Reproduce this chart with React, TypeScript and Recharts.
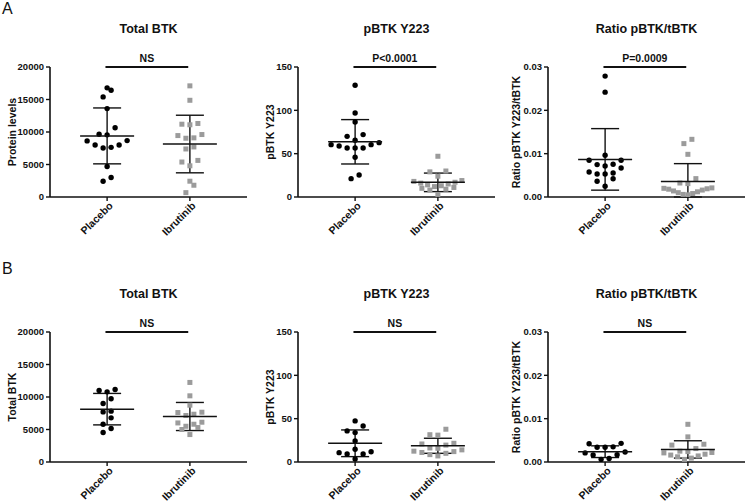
import React from "react";
import { ErrorBar, ReferenceLine, Scatter, ScatterChart, XAxis, YAxis } from "recharts";

// Groups on the x axis
const GROUPS = ["Placebo", "Ibrutinib"];

// Panel A values
const A_TOTAL_PLACEBO = [16790, 16430, 15400, 13600, 10650, 9650, 9560, 8680, 8630, 8010, 8010, 7640, 7550, 4700, 2990, 2430];
const A_TOTAL_IBRUTINIB = [17100, 14880, 11310, 11200, 11110, 9610, 9450, 9100, 9040, 7700, 7390, 5630, 5380, 4800, 2430, 1810, 670];
const A_TOTAL_MEAN = [9400, 8150];
const A_TOTAL_SD = [4300, 4430];

const A_PHOS_PLACEBO = [128.9, 96.9, 86.5, 72, 70, 65.4, 62.7, 60.4, 60.4, 58.8, 56.5, 56.5, 56.5, 45.8, 25.4, 21.2];
const A_PHOS_IBRUTINIB = [47, 30, 29, 24, 19, 18, 17, 16, 15, 14, 13, 12, 11, 10, 9, 8, 3];
const A_PHOS_MEAN = [63.7, 16.9];
const A_PHOS_SD = [25.6, 10.7];

const A_RATIO_PLACEBO = [0.0279, 0.0242, 0.00962, 0.00847, 0.00847, 0.00755, 0.00748, 0.00716, 0.00669, 0.00577, 0.00554, 0.00531, 0.00531, 0.0042, 0.00362, 0.00247];
const A_RATIO_IBRUTINIB = [0.01331, 0.01232, 0.00985, 0.00424, 0.00323, 0.00309, 0.0021, 0.002, 0.0019, 0.0018, 0.0016, 0.0014, 0.0012, 0.001, 0.0008, 0.0006, 0.0005];
const A_RATIO_MEAN = [0.00868, 0.0036];
const A_RATIO_SD = [0.0071, 0.0041];

// Panel B values
const B_TOTAL_PLACEBO = [11160, 11010, 10790, 9720, 9000, 7820, 7710, 6790, 5810, 5150, 4530];
const B_TOTAL_IBRUTINIB = [12240, 10180, 8740, 7660, 7610, 7350, 7150, 6120, 6010, 5810, 5500, 5300, 5000, 4220];
const B_TOTAL_MEAN = [8130, 7000];
const B_TOTAL_SD = [2420, 2160];

const B_PHOS_PLACEBO = [47.4, 41.6, 35.9, 33.9, 24.3, 14.7, 11.9, 10.8, 9.3, 9.3, 3.4];
const B_PHOS_IBRUTINIB = [37.8, 31.5, 31, 21.6, 20.8, 19.5, 16.2, 15.8, 14, 12.5, 12, 11, 10, 8.5, 7];
const B_PHOS_MEAN = [21.6, 18.7];
const B_PHOS_SD = [15.4, 8.7];

const B_RATIO_PLACEBO = [0.0043, 0.0042, 0.0035, 0.0034, 0.0034, 0.0023, 0.0021, 0.0017, 0.0016, 0.0008, 0.0006];
const B_RATIO_IBRUTINIB = [0.0087, 0.0058, 0.0041, 0.0039, 0.0031, 0.0025, 0.0024, 0.0022, 0.0021, 0.0018, 0.0016, 0.0014, 0.0012, 0.0009, 0.0006];
const B_RATIO_MEAN = [0.00238, 0.0029];
const B_RATIO_SD = [0.00135, 0.002];

// Axis ticks
const TOTAL_TICKS = [0, 5000, 10000, 15000, 20000];
const PHOS_TICKS = [0, 50, 100, 150];
const RATIO_TICKS = [0, 0.01, 0.02, 0.03];

// geometry
const PLOT_W = 197;
const PLOT_H = 130;
const AXIS_W = 50;
const TOP_M = 27;
const XAXIS_H = 45;
const X_DOMAIN: [number, number] = [-0.69, 1.69];
const PX_PER_X = PLOT_W / (X_DOMAIN[1] - X_DOMAIN[0]);
const INK = "#111";
const GREY = "#9b9b9b";
const FONT = "'Liberation Sans', Arial, sans-serif";

// Prism-like dot arrangement: group into rows, spread rows symmetrically
function swarm(values: number[], center: number, yMax: number) {
  const pxY = PLOT_H / yMax;
  const sorted = [...values].sort((a, b) => a - b);
  const rows: number[][] = [];
  for (const v of sorted) {
    const row = rows[rows.length - 1];
    if (row && (v - row[0]) * pxY < 7.5) row.push(v);
    else rows.push([v]);
  }
  const out: { x: number; y: number }[] = [];
  for (const row of rows) {
    const n = row.length;
    const step = n > 1 ? Math.min(8, 48 / (n - 1)) : 8;
    const slots: number[] = [];
    for (let i = 0; i < n; i++) slots.push(i - (n - 1) / 2);
    slots.sort((a, b) => Math.abs(a) - Math.abs(b) || a - b);
    row.forEach((v, i) => out.push({ x: center + (slots[i] * step) / PX_PER_X, y: v }));
  }
  return out;
}

const Dot = (p: any) => <circle cx={p.cx} cy={p.cy} r={2.7} fill="#000" />;
const Square = (p: any) => <rect x={p.cx - 2.5} y={p.cy - 2.5} width={5} height={5} fill={GREY} />;
const MeanLine = (p: any) => (
  <line x1={p.cx - 27} x2={p.cx + 27} y1={p.cy} y2={p.cy} stroke={INK} strokeWidth={1.5} />
);

function GroupTick(props: any) {
  const { x, y, payload } = props;
  return (
    <g transform={`translate(${x},${y})`}>
      <text x={2} y={0} dy={7} textAnchor="end" transform="rotate(-45)" fontSize={10.5} fontWeight={700} fill={INK}>
        {GROUPS[payload.value]}
      </text>
    </g>
  );
}

type Panel = {
  title: string;
  yLabel: string;
  labelX: number;
  yMax: number;
  ticks: number[];
  fmt: (v: number) => string;
  placebo: number[];
  ibrutinib: number[];
  mean: number[];
  sd: number[];
  sig: string;
  left: number;
  top: number;
};

const plain = (v: number) => String(v);
const two = (v: number) => v.toFixed(2);

const PANELS: Panel[] = [
  { title: "Total BTK", yLabel: "Protein levels", labelX: 12, yMax: 20000, ticks: TOTAL_TICKS, fmt: plain, placebo: A_TOTAL_PLACEBO, ibrutinib: A_TOTAL_IBRUTINIB, mean: A_TOTAL_MEAN, sd: A_TOTAL_SD, sig: "NS", left: 0, top: 40 },
  { title: "pBTK Y223", yLabel: "pBTK Y223", labelX: 22, yMax: 150, ticks: PHOS_TICKS, fmt: plain, placebo: A_PHOS_PLACEBO, ibrutinib: A_PHOS_IBRUTINIB, mean: A_PHOS_MEAN, sd: A_PHOS_SD, sig: "P<0.0001", left: 248, top: 40 },
  { title: "Ratio pBTK/tBTK", yLabel: "Ratio pBTK Y223/tBTK", labelX: 18, yMax: 0.03, ticks: RATIO_TICKS, fmt: two, placebo: A_RATIO_PLACEBO, ibrutinib: A_RATIO_IBRUTINIB, mean: A_RATIO_MEAN, sd: A_RATIO_SD, sig: "P=0.0009", left: 498, top: 40 },
  { title: "Total BTK", yLabel: "Total BTK", labelX: 12, yMax: 20000, ticks: TOTAL_TICKS, fmt: plain, placebo: B_TOTAL_PLACEBO, ibrutinib: B_TOTAL_IBRUTINIB, mean: B_TOTAL_MEAN, sd: B_TOTAL_SD, sig: "NS", left: 0, top: 305 },
  { title: "pBTK Y223", yLabel: "pBTK Y223", labelX: 22, yMax: 150, ticks: PHOS_TICKS, fmt: plain, placebo: B_PHOS_PLACEBO, ibrutinib: B_PHOS_IBRUTINIB, mean: B_PHOS_MEAN, sd: B_PHOS_SD, sig: "NS", left: 248, top: 305 },
  { title: "Ratio pBTK/tBTK", yLabel: "Ratio pBTK Y223/tBTK", labelX: 18, yMax: 0.03, ticks: RATIO_TICKS, fmt: two, placebo: B_RATIO_PLACEBO, ibrutinib: B_RATIO_IBRUTINIB, mean: B_RATIO_MEAN, sd: B_RATIO_SD, sig: "NS", left: 498, top: 305 },
];

function DotPlot({ p }: { p: Panel }) {
  // lower arm stops at the x axis, as in the figure
  const summary = p.mean.map((m, i) => ({ x: i, y: m, err: [Math.min(p.sd[i], m), p.sd[i]] }));
  return (
    <>
      <div
        style={{
          position: "absolute",
          left: p.left + AXIS_W,
          top: p.top - 18,
          width: PLOT_W,
          textAlign: "center",
          fontSize: 12.5,
          fontWeight: 700,
          lineHeight: "14px",
          color: INK,
        }}
      >
        {p.title}
      </div>
      <div style={{ position: "absolute", left: p.left, top: p.top }}>
        <ScatterChart
          width={AXIS_W + PLOT_W}
          height={TOP_M + PLOT_H + XAXIS_H}
          margin={{ top: TOP_M, right: 0, bottom: 0, left: 0 }}
        >
          <XAxis
            type="number"
            dataKey="x"
            domain={X_DOMAIN}
            ticks={[0, 1]}
            height={XAXIS_H}
            allowDataOverflow
            axisLine={{ stroke: INK, strokeWidth: 1.6 }}
            tickLine={{ stroke: INK, strokeWidth: 1.4 }}
            tickSize={4}
            tick={<GroupTick />}
          />
          <YAxis
            type="number"
            dataKey="y"
            domain={[0, p.yMax]}
            ticks={p.ticks}
            width={AXIS_W}
            allowDataOverflow
            tickFormatter={p.fmt}
            axisLine={{ stroke: INK, strokeWidth: 1.6 }}
            tickLine={{ stroke: INK, strokeWidth: 1.4 }}
            tickSize={4}
            tick={{ fontSize: 9.5, fontWeight: 700, fill: INK }}
            label={{
              value: p.yLabel,
              angle: -90,
              position: "insideLeft",
              offset: p.labelX,
              style: { textAnchor: "middle", fontSize: 10.5, fontWeight: 700, fill: INK },
            }}
          />
          <Scatter data={swarm(p.placebo, 0, p.yMax)} shape={Dot} isAnimationActive={false} />
          <Scatter data={swarm(p.ibrutinib, 1, p.yMax)} shape={Square} isAnimationActive={false} />
          <Scatter data={summary} shape={MeanLine} isAnimationActive={false}>
            <ErrorBar dataKey="err" direction="y" width={14} stroke={INK} strokeWidth={1.4} isAnimationActive={false} />
          </Scatter>
          <ReferenceLine
            segment={[
              { x: -0.02, y: p.yMax },
              { x: 0.98, y: p.yMax },
            ]}
            stroke={INK}
            strokeWidth={2.2}
            ifOverflow="visible"
            label={{ value: p.sig, position: "top", offset: 5, fontSize: 10.5, fontWeight: 700, fill: INK }}
          />
        </ScatterChart>
      </div>
    </>
  );
}

export default function App() {
  return (
    <div
      style={{
        position: "absolute",
        left: 0,
        top: 0,
        width: 745,
        height: 503,
        overflow: "hidden",
        background: "#fff",
        fontFamily: FONT,
      }}
    >
      <div style={{ position: "absolute", left: 2, top: 0, fontSize: 16, lineHeight: "18px", color: INK }}>A</div>
      <div style={{ position: "absolute", left: 2, top: 260, fontSize: 16, lineHeight: "18px", color: INK }}>B</div>
      {PANELS.map((p, i) => (
        <DotPlot key={i} p={p} />
      ))}
    </div>
  );
}
